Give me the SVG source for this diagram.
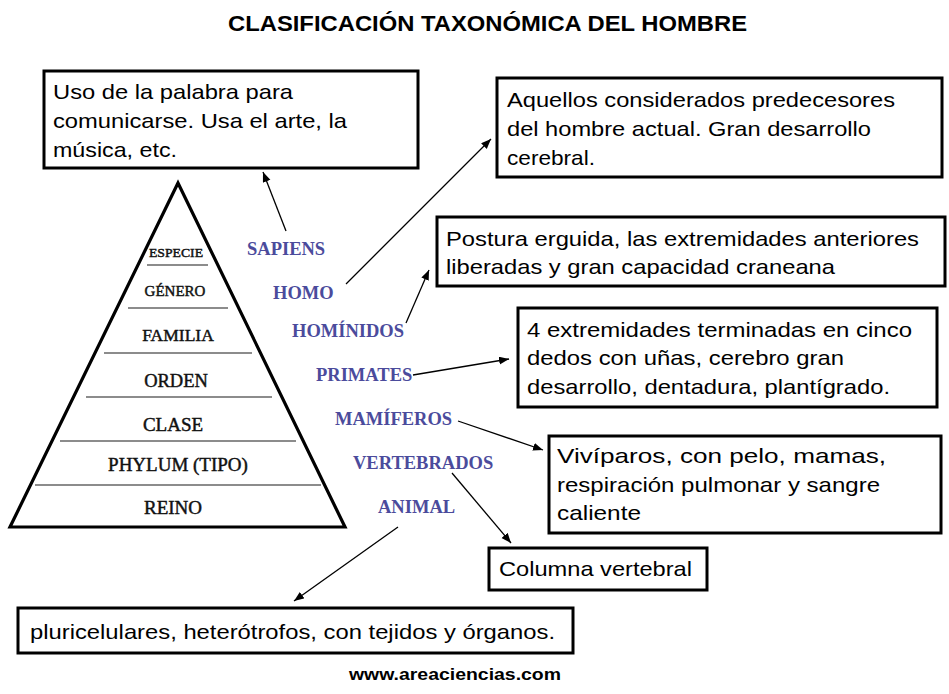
<svg xmlns="http://www.w3.org/2000/svg" width="949" height="694" viewBox="0 0 949 694">
<defs>
<style>
.box{fill:#fff;stroke:#000;stroke-width:3}
.t{font-family:"Liberation Sans",Arial,sans-serif;font-size:21px;fill:#000}
.lvl{font-family:"Liberation Serif","Times New Roman",serif;fill:#111;stroke:#111;stroke-width:0.45;text-anchor:middle}
.tax{font-family:"Liberation Serif","Times New Roman",serif;font-weight:bold;font-size:18.5px;fill:#4b4b9c}
.div{stroke:#666;stroke-width:1.6}
.arr{stroke:#000;stroke-width:1.3;fill:none;marker-end:url(#ah)}
</style>
<marker id="ah" markerUnits="userSpaceOnUse" markerWidth="12" markerHeight="10" refX="10" refY="4" orient="auto">
<path d="M0,0 L10,4 L0,8 Z" fill="#000"/>
</marker>
</defs>
<rect width="949" height="694" fill="#fff"/>
<text x="228" y="31" font-family="Liberation Sans,Arial,sans-serif" font-weight="bold" font-size="22" textLength="519" lengthAdjust="spacingAndGlyphs">CLASIFICACIÓN TAXONÓMICA DEL HOMBRE</text>

<g id="pyramid">
<polygon points="178,183 345,527 10,527" fill="#fff" stroke="#000" stroke-width="3.2" stroke-linejoin="miter"/>
<line class="div" x1="147" y1="265" x2="208" y2="265"/>
<line class="div" x1="128" y1="308" x2="228" y2="308"/>
<line class="div" x1="104" y1="353" x2="252" y2="353"/>
<line class="div" x1="86" y1="397" x2="272" y2="397"/>
<line class="div" x1="60" y1="441" x2="296" y2="441"/>
<line class="div" x1="35" y1="485" x2="321" y2="485"/>
<text class="lvl" x="176" y="257" font-size="13" textLength="54" lengthAdjust="spacingAndGlyphs">ESPECIE</text>
<text class="lvl" x="175" y="296" font-size="15">GÉNERO</text>
<text class="lvl" x="178" y="341" font-size="17.5">FAMILIA</text>
<text class="lvl" x="176" y="387" font-size="18.5">ORDEN</text>
<text class="lvl" x="173" y="431" font-size="19">CLASE</text>
<text class="lvl" x="178" y="471" font-size="19">PHYLUM (TIPO)</text>
<text class="lvl" x="173" y="514" font-size="19">REINO</text>
</g>

<g id="taxa">
<text class="tax" x="247" y="255">SAPIENS</text>
<text class="tax" x="273" y="299">HOMO</text>
<text class="tax" x="292" y="337">HOMÍNIDOS</text>
<text class="tax" x="316" y="381">PRIMATES</text>
<text class="tax" x="335" y="425">MAMÍFEROS</text>
<text class="tax" x="353" y="469">VERTEBRADOS</text>
<text class="tax" x="378" y="513">ANIMAL</text>
</g>

<g id="box-sapiens">
<rect class="box" x="44" y="71" width="374" height="97"/>
<text class="t" x="53" y="99" textLength="240" lengthAdjust="spacingAndGlyphs">Uso de la palabra para</text>
<text class="t" x="53" y="128" textLength="294" lengthAdjust="spacingAndGlyphs">comunicarse. Usa el arte, la</text>
<text class="t" x="53" y="157" textLength="124" lengthAdjust="spacingAndGlyphs">música, etc.</text>
</g>

<g id="box-homo">
<rect class="box" x="497" y="78" width="445" height="99"/>
<text class="t" x="507" y="107" textLength="388" lengthAdjust="spacingAndGlyphs">Aquellos considerados predecesores</text>
<text class="t" x="507" y="136" textLength="364" lengthAdjust="spacingAndGlyphs">del hombre actual. Gran desarrollo</text>
<text class="t" x="507" y="165" textLength="88" lengthAdjust="spacingAndGlyphs">cerebral.</text>
</g>

<g id="box-hominidos">
<rect class="box" x="437" y="217" width="508" height="69"/>
<text class="t" x="446" y="246" textLength="473" lengthAdjust="spacingAndGlyphs">Postura erguida, las extremidades anteriores</text>
<text class="t" x="446" y="274" textLength="389" lengthAdjust="spacingAndGlyphs">liberadas y gran capacidad craneana</text>
</g>

<g id="box-primates">
<rect class="box" x="518" y="308" width="419" height="99"/>
<text class="t" x="527" y="337" textLength="385" lengthAdjust="spacingAndGlyphs">4 extremidades terminadas en cinco</text>
<text class="t" x="527" y="365" textLength="317" lengthAdjust="spacingAndGlyphs">dedos con uñas, cerebro gran</text>
<text class="t" x="527" y="394" textLength="363" lengthAdjust="spacingAndGlyphs">desarrollo, dentadura, plantígrado.</text>
</g>

<g id="box-mamiferos">
<rect class="box" x="549" y="436" width="392" height="97"/>
<text class="t" x="557" y="463" textLength="329" lengthAdjust="spacingAndGlyphs">Vivíparos, con pelo, mamas,</text>
<text class="t" x="557" y="492" textLength="323" lengthAdjust="spacingAndGlyphs">respiración pulmonar y sangre</text>
<text class="t" x="557" y="520" textLength="84" lengthAdjust="spacingAndGlyphs">caliente</text>
</g>

<g id="box-vertebrados">
<rect class="box" x="489" y="548" width="218" height="42"/>
<text class="t" x="499" y="576" textLength="193" lengthAdjust="spacingAndGlyphs">Columna vertebral</text>
</g>

<g id="box-animal">
<rect class="box" x="18" y="608" width="555" height="45"/>
<text class="t" x="30" y="639" textLength="525" lengthAdjust="spacingAndGlyphs">pluricelulares, heterótrofos, con tejidos y órganos.</text>
</g>

<g id="connectors">
<line class="arr" x1="286" y1="231" x2="263" y2="172"/>
<line class="arr" x1="346" y1="284" x2="491" y2="139"/>
<line class="arr" x1="406" y1="323" x2="429" y2="270"/>
<line class="arr" x1="413" y1="375" x2="509" y2="359"/>
<line class="arr" x1="458" y1="421" x2="543" y2="450"/>
<line class="arr" x1="452" y1="473" x2="511" y2="543"/>
<line class="arr" x1="398" y1="527" x2="294" y2="601"/>
</g>

<text x="349" y="680" font-family="Liberation Sans,Arial,sans-serif" font-weight="bold" font-size="16" textLength="212" lengthAdjust="spacingAndGlyphs">www.areaciencias.com</text>
</svg>
